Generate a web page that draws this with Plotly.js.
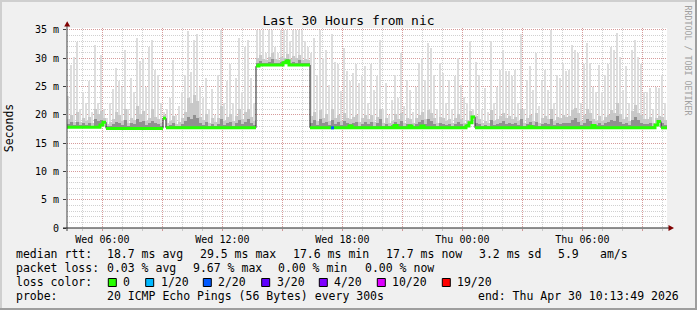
<!DOCTYPE html>
<html>
<head>
<meta charset="utf-8">
<script src="https://cdn.plot.ly/plotly-3.0.1.min.js"></script>
<style>
html,body{margin:0;padding:0;background:#f0f0f0;}
#chart{width:697px;height:310px;}
</style>
</head>
<body>
<div id="chart"></div>
<script>
// ---- data (ms), 200 consolidated columns of 9 minutes over the last 30 hours ----
const endHour = 24 + 10 + 13/60 + 49/3600;   // Thu 10:13:49, hours since Wed 00:00
const spanHours = 30;
const colHours = 0.15;

const smokeMax = [
23.3,28.8,30.2,32.8,21,24,22,26,20.5,32.3,
22,30.5,21,19.5,22,24.5,28.3,26,25,31.5,
21,26.5,24,33.5,29.5,30,25,32,33.3,28,
27,22,20.5,21,23,29.6,20,21.5,24,27,
34.8,27.5,33.3,34.2,25,23,26.5,21,24.5,20,
27,35,22,26,28.9,22,26.5,33.6,24,32,
33.3,26.5,22,35,35,35,31,35,35,32,
31,35,35,35,33,35,35,35,35,33,
32,30.9,33.6,27,35,30,31.5,25.3,34.2,29.4,
28.9,24.2,31.8,27.7,25.9,27.4,28.9,25.6,26.8,28.6,
22,29,24.4,26.8,33.3,21,25.6,20,22.7,27.1,
23,31,21.5,26.2,24.4,20.5,25,29.1,30,26.2,
32.7,31.8,27.1,21,29.1,27.4,22,26.2,21,26.8,
30,25.3,23.2,22,33,21,29.4,27.1,21,24.7,
20.5,33,22,25,28,31.5,27.7,27.7,26.8,28,
22,34.2,21,26.2,28.6,24.4,30.9,21.5,25.9,28,
24.4,35,22,27.1,26.5,29.2,27.7,28,32.4,31.5,
30.9,22,28.9,32.7,29.1,25,24,28.8,24.1,27.1,
28.9,32,31.5,34.4,30.3,24.4,28.6,22,31.5,33.3,
30.3,28.9,24,24.1,24.7,21,25,24.7,27.1,22
];
const smokeMid = [
19.2,20,18.8,20.5,18.7,19.4,18.9,19.6,18.6,21,
20.2,20.6,19.5,18.4,18.7,19.2,20.5,20,18.9,21,
18.6,19.4,19,21.5,20.2,20.6,18.9,19.5,21,19.6,
19.2,18.6,20,18.6,18.9,19.8,18.4,18.7,19.4,20.5,
23,22,23.5,22.5,19.6,19,20.2,18.6,19.5,18.8,
19.5,21.5,18.9,19.6,20.2,18.9,19.8,21,19.2,20.5,
21,19.6,18.9,30,30.6,29.8,29.6,30.2,31,29.8,
29.6,30.3,30,30.8,29.8,30.4,30,30.6,29.7,29.9,
29.6,19.8,20.5,18.9,20.8,19.5,20.2,18.9,21,19.4,
19.9,18.9,20.3,19.5,19.2,19.6,20,18.8,19.4,19.9,
19.2,19.9,18.8,19.6,21,18.6,19.4,18.5,18.9,20.2,
19.2,20.4,18.6,19.4,19.2,18.6,19.5,19.9,20.5,19.2,
20.8,20.4,19.4,18.5,19.7,19.4,18.9,19.2,18.6,19.5,
20.2,19.2,18.6,19,20.6,20,19.8,19.2,18.6,18.9,
18.6,20.8,18.9,19.2,19.8,20.4,19.5,19.8,19.2,19.6,
18.9,21,18.6,19.5,20,18.9,20.3,18.6,19.4,19.8,
19.2,21,18.9,19.6,19.4,19.9,19.6,19.8,20.8,21.2,
20.3,18.9,19.9,21,20.4,19.2,18.9,19.8,18.9,19.6,
20,20.8,20.3,22,20.2,19.2,19.6,18.9,20.6,21.8,
20.4,19.9,19.2,19.2,19.6,18.6,19.4,19.8,19.6,19
];
const smokeDark = [
18.4,18.7,18.2,18.8,18.2,18.5,18.2,18.6,18.1,19.2,
18.9,19,18.9,18,18.1,18.4,18.8,18.6,18.2,19,
18.1,18.5,18.3,19.2,18.7,18.9,18.2,18.5,18.9,18.6,
18.4,18,19.6,18,18.2,18.6,18,18.1,18.4,18.9,
19.6,19.2,20,19.5,18.5,18.2,18.8,18,18.4,18.1,
18.4,19.2,18.2,18.5,18.8,18.1,18.6,19,18.3,18.8,
19.2,18.6,18.2,29.2,29.5,29.1,29.1,29.4,29.8,29.1,
29.1,29.4,29.5,29.9,29.1,29.4,29.2,29.6,29.1,29.2,
29.1,18.6,19,18.2,19.2,18.5,18.8,18.2,19,18.4,
18.7,18.2,18.9,18.5,18.4,18.5,18.8,18.1,18.4,18.7,
18.3,18.7,18.1,18.5,19.2,18,18.4,18,18.2,18.8,
18.3,18.9,18,18.4,18.3,18,18.4,18.7,19,18.3,
19.2,18.9,18.4,18,18.6,18.4,18.2,18.3,18,18.4,
18.8,18.3,18,18.3,18.8,19.8,18.6,18.3,18,18.2,
18,19,18.2,18.3,18.6,18.9,18.4,18.6,18.3,18.5,
18.2,19.2,18,18.4,18.7,18.2,18.8,18,18.4,18.6,
18.3,19.3,18.2,18.5,18.4,18.6,18.5,18.6,19,19.4,
18.8,18.2,18.6,19.2,18.9,18.3,18.2,18.6,18.2,18.5,
18.7,19,18.9,19.8,18.8,18.3,18.5,18.2,19,19.6,
19,18.6,18.3,18.3,18.5,18,18.4,18.9,18.5,18.2
];
const medianRtt = [
17.8,17.8,17.8,17.8,17.8,17.8,17.8,17.8,17.8,17.8,
17.8,18.2,18.7,17.6,17.6,17.6,17.6,17.6,17.6,17.6,
17.6,17.6,17.6,17.6,17.6,17.6,17.6,17.6,17.6,17.6,
17.6,17.6,19.4,17.7,17.7,17.7,17.7,17.7,17.7,17.7,
17.7,17.7,17.7,17.7,17.7,17.7,17.7,17.7,17.7,17.7,
17.7,17.7,17.7,17.7,17.7,17.7,17.7,17.7,17.7,17.7,
17.7,17.7,17.7,28.6,28.8,28.8,28.8,28.8,28.8,28.8,
28.8,28.8,29.2,29.5,28.8,28.8,28.8,28.8,28.8,28.8,
28.8,17.7,17.7,17.7,17.7,17.7,17.7,17.7,17.7,17.7,
17.7,17.7,17.7,17.7,18.0,17.7,17.7,17.7,17.7,17.7,
17.7,17.7,17.7,17.7,17.7,17.7,17.7,17.7,17.7,18.1,
17.7,17.7,17.7,17.7,18.0,17.7,17.7,17.7,18.0,17.7,
17.7,17.7,17.7,17.7,17.7,17.7,17.7,17.7,17.7,17.7,
17.7,17.7,17.7,18.0,18.6,19.6,17.7,17.7,17.7,17.7,
17.7,17.7,17.7,17.7,17.7,17.7,17.7,17.7,17.7,17.7,
17.7,17.7,17.7,17.7,17.9,17.7,17.7,17.7,17.7,17.7,
17.7,17.7,17.7,17.7,17.7,17.7,17.7,17.7,17.7,17.7,
17.7,17.7,17.7,17.7,17.7,18.1,17.7,17.7,17.7,17.7,
17.7,17.7,17.7,17.7,17.7,17.7,17.7,17.7,17.7,17.7,
17.7,17.7,17.7,17.7,17.7,17.7,18.2,18.8,17.7,17.7
];
const lossColumns = [88];
const lossLevelOfColumn = [2];   // index into lossLabels

const lossLabels = ['0','1/20','2/20','3/20','4/20','10/20','19/20'];
const lossColors = ['#26ff00','#00b8ff','#0059ff','#5e00ff','#7e00ff','#dd00ff','#ff0000'];

const yTickVals = [0,5,10,15,20,25,30,35];
const yTickText = ['0','5 m','10 m','15 m','20 m','25 m','30 m','35 m'];
const xTickVals = [6,9,12,15,18,21,24,27,30,33];
const xTickText = ['Wed 06:00','','Wed 12:00','','Wed 18:00','','Thu 00:00','','Thu 06:00',''];

const statLine1 = ['median rtt:','18.7 ms avg','29.5 ms max','17.6 ms min','17.7 ms now','3.2 ms sd','5.9','am/s'];
const statLine2 = ['packet loss:','0.03 % avg','9.67 % max','0.00 % min','0.00 % now'];
const probeText = ['probe:','20 ICMP Echo Pings (56 Bytes) every 300s','end: Thu Apr 30 10:13:49 2026'];

// ---- geometry ----
const W = 697, H = 310;
const M = {l:67, r:30, t:28, b:82};
const PW = W - M.l - M.r, PH = H - M.t - M.b;
const px = v => (v - M.l) / PW;
const py = v => (H - M.b - v) / PH;
const FONT = 'DejaVu Sans Mono';

const startHour = endHour - spanHours;
const n = medianRtt.length;
const edges = medianRtt.map((_, i) => startHour + i * colHours);

function smokeTrace(vals, color, w) {
  return {
    type: 'bar', x: edges, base: medianRtt, offset: 0,
    y: vals.map((v, i) => Math.max(0, v - medianRtt[i])),
    width: w, marker: {color: color, line: {width: 0}},
    hoverinfo: 'skip', showlegend: false
  };
}

// median line: thin dark full step, coloured thick horizontal pieces
const stepX = edges.concat([startHour + n * colHours]);
const stepY = medianRtt.concat([medianRtt[n - 1]]);
const gx = [], gy = [];
for (let i = 0; i < n; i++) {
  if (i > 0 && Math.abs(medianRtt[i] - medianRtt[i - 1]) > 1.0) { gx.push(null); gy.push(null); }
  gx.push(edges[i]); gy.push(medianRtt[i]);
  gx.push(edges[i] + colHours); gy.push(medianRtt[i]);
}
const lx = [], ly = [];
lossColumns.forEach((c) => {
  lx.push(edges[c], edges[c] + colHours, null);
  ly.push(medianRtt[c], medianRtt[c], null);
});

const traces = [
  smokeTrace(smokeMax, '#dddddd', colHours * 2 / 3),
  smokeTrace(smokeMid, '#c8c8c8', colHours),
  smokeTrace(smokeDark, '#909090', colHours),
  {type:'scatter', mode:'lines', x: stepX, y: stepY, line:{shape:'hv', color:'#202020', width:1}, hoverinfo:'skip', showlegend:false},
  {type:'scatter', mode:'lines', x: gx, y: gy, line:{color: lossColors[0], width:3}, connectgaps:false, hoverinfo:'skip', showlegend:false},
  {type:'scatter', mode:'lines', x: lx, y: ly, line:{color: lossColors[lossLevelOfColumn[0]], width:3}, connectgaps:false, hoverinfo:'skip', showlegend:false}
];

// ---- annotations (legend/text block) ----
const ann = [];
function txt(s, x, y, size, extra) {
  ann.push(Object.assign({text: s, xref:'paper', yref:'paper', x: px(x), y: py(y),
    xanchor:'left', yanchor:'middle', showarrow:false, borderpad:0, borderwidth:0,
    font:{family: FONT, size: size, color:'#000'}}, extra || {}));
}
const L1x = [16,107.3,200,293.3,385.7,479.3,558.3,600];
statLine1.forEach((s, i) => txt(s, L1x[i], 254.3, 11.5));
const L2x = [16,107.3,193.3,278.3,365];
statLine2.forEach((s, i) => txt(s, L2x[i], 268.3, 11.5));
txt('loss color:', 16, 282.3, 11.5);
const boxX = [108.3,145.7,203.3,261.7,319.3,377.3,442.3];
const shapes = [];
lossLabels.forEach((s, i) => {
  txt(s, boxX[i] + 15, 282.3, 11.5);
  shapes.push({type:'rect', xref:'paper', yref:'paper', x0: px(boxX[i]), x1: px(boxX[i] + 8),
    y0: py(286.5), y1: py(278.5), fillcolor: lossColors[i], line:{color:'#000', width:1}});
});
txt(probeText[0], 16, 296, 11.5);
txt(probeText[1], 107.3, 296, 11.5);
txt(probeText[2], 478.3, 296, 11.5);
ann.push({text:'RRDTOOL / TOBI OETIKER', xref:'paper', yref:'paper', x: px(687.5), y: py(60),
  xanchor:'center', yanchor:'middle', textangle: 90, showarrow:false, borderpad:0,
  font:{family: FONT, size: 8.3, color:'#a0a0a0'}});

// axes lines and arrows
shapes.push({type:'line', xref:'paper', yref:'paper', x0: px(67), x1: px(67), y0: py(231), y1: py(25), line:{color:'#404040', width:1}});
shapes.push({type:'line', xref:'paper', yref:'paper', x0: px(63), x1: px(669), y0: py(228), y1: py(228), line:{color:'#202020', width:1}});
shapes.push({type:'path', xref:'paper', yref:'paper', fillcolor:'#7f0000', line:{width:0},
  path: `M ${px(67.2)} ${py(21.2)} L ${px(64.2)} ${py(26.5)} L ${px(70.2)} ${py(26.5)} Z`});
shapes.push({type:'path', xref:'paper', yref:'paper', fillcolor:'#7f0000', line:{width:0},
  path: `M ${px(674)} ${py(228)} L ${px(668.5)} ${py(225)} L ${px(668.5)} ${py(231)} Z`});
// 3D border
shapes.push({type:'rect', xref:'paper', yref:'paper', x0: px(0), x1: px(2), y0: py(0), y1: py(310), fillcolor:'#cfcfcf', line:{width:0}});
shapes.push({type:'rect', xref:'paper', yref:'paper', x0: px(0), x1: px(697), y0: py(0), y1: py(2), fillcolor:'#cfcfcf', line:{width:0}});
shapes.push({type:'rect', xref:'paper', yref:'paper', x0: px(695), x1: px(697), y0: py(0), y1: py(310), fillcolor:'#9e9e9e', line:{width:0}});
shapes.push({type:'rect', xref:'paper', yref:'paper', x0: px(0), x1: px(697), y0: py(308), y1: py(310), fillcolor:'#9e9e9e', line:{width:0}});

const majorGrid = 'rgba(222,81,81,0.42)';
const minorGrid = 'rgba(143,143,143,0.42)';

const layout = {
  width: W, height: H,
  margin: M,
  paper_bgcolor: '#f0f0f0', plot_bgcolor: '#ffffff',
  showlegend: false,
  barmode: 'overlay', bargap: 0,
  title: {text: 'Last 30 Hours from nic', font:{family: FONT, size: 13, color:'#000'},
    x: 0.5, xref:'container', xanchor:'center', y: 1 - 20/H, yref:'container', yanchor:'middle'},
  xaxis: {
    range: [startHour, endHour], showline:false, zeroline:false,
    tickmode:'array', tickvals: xTickVals, ticktext: xTickText,
    ticks:'outside', ticklen: 2, tickcolor: majorGrid, tickwidth: 1,
    showgrid: true, gridcolor: majorGrid, griddash:'1px,1px', gridwidth: 1,
    tickfont: {family: FONT, size: 10, color:'#000'},
    minor: {tickmode:'linear', tick0: 0, dtick: 1, showgrid: true, gridcolor: minorGrid,
      griddash:'1px,1px', gridwidth: 1, ticks:'outside', ticklen: 2, tickcolor: minorGrid}
  },
  yaxis: {
    range: [0, PH / 5.66], showline:false, zeroline:false,
    tickmode:'array', tickvals: yTickVals, ticktext: yTickText,
    ticks:'outside', ticklen: 3, tickcolor:'#404040', tickwidth: 1, ticklabelstandoff: 2,
    showgrid: true, gridcolor: majorGrid, griddash:'1px,1px', gridwidth: 1,
    tickfont: {family: FONT, size: 10, color:'#000'},
    title: {text:'Seconds', font:{family: FONT, size: 11.5, color:'#000'}, standoff: 18},
    minor: {tickmode:'linear', tick0: 0, dtick: 1, showgrid: true, gridcolor: minorGrid,
      griddash:'1px,1px', gridwidth: 1, ticks:''}
  },
  annotations: ann,
  shapes: shapes
};

Plotly.newPlot('chart', traces, layout, {staticPlot: true, displayModeBar: false});
</script>
</body>
</html>
